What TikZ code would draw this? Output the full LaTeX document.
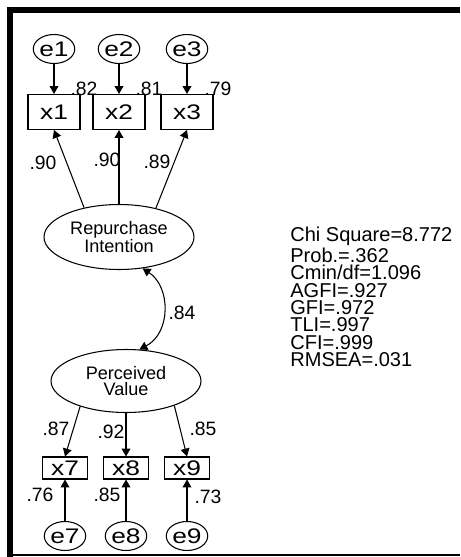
\documentclass[tikz,border=0pt]{standalone}
\usepackage{fontspec}
\setmainfont{Liberation Sans}
\newfontfamily\varfont[FakeStretch=1.25]{Liberation Sans}
\usetikzlibrary{arrows.meta, shapes.geometric}

\begin{document}
\begin{tikzpicture}[
    x=0.02cm, y=-0.02cm,
    >={Triangle[length=4.5pt, width=5pt]},
    font=\fontsize{11}{10}\selectfont,
    frame/.style  = {fill=black},
    resid/.style  = {draw, ellipse, line width=0.6pt, inner sep=0pt,
                     minimum width=0.82cm, minimum height=0.58cm,
                     font=\varfont\fontsize{12}{12}\selectfont},
    obs/.style    = {draw, rectangle, line width=0.6pt, inner sep=0pt,
                     minimum width=1.04cm, minimum height=0.7cm,
                     font=\varfont\fontsize{12}{12}\selectfont},
    obslow/.style = {obs, minimum width=0.9cm, minimum height=0.44cm},
    latent/.style = {draw, ellipse, align=center, line width=0.6pt,
                     inner sep=0pt, minimum width=3.0cm, minimum height=1.3cm,
                     font=\fontsize{10.3}{9}\selectfont},
    path/.style   = {line width=0.6pt, ->},
    cov/.style    = {line width=0.6pt, <->},
    coef/.style   = {inner sep=0pt},
  ]

  \useasboundingbox (0,0) rectangle (460,557);

  % --- frame of the output window ------------------------------------------
  \fill[frame] (7,7) rectangle (460,13);
  \fill[frame] (7,7) rectangle (13,557);
  \fill[frame] (13,554) rectangle (460,556);

  % --- Repurchase Intention and its indicators -----------------------------
  \node[latent] (RI) at (119,237) {Repurchase\\Intention};
  \foreach \i/\x in {1/54, 2/119, 3/187} {
    \node[resid] (e\i) at (\x,49) {e\i};
    \node[obs]   (x\i) at (\x,112) {x\i};
    \draw[path] (e\i) -- (x\i);
  }
  \draw[path] (RI.140) -- (x1.south);
  \draw[path] (RI.north) -- (x2.south);
  \draw[path] (RI.38) -- (x3.south);

  \node[coef] (r1) at (84,89) {.82};
  \node[coef] (r2) at (149,89) {.81};
  \node[coef] (r3) at (218,89) {.79};
  \node[coef] (l1) at (43,163) {.90};
  \node[coef] (l2) at (107,160) {.90};
  \node[coef] (l3) at (157,162) {.89};

  % --- correlation between the two factors ---------------------------------
  \node[latent, minimum height=1.26cm] (PV) at (126,381) {Perceived\\Value};
  \draw[cov] (RI.307) .. controls (171,287) and (171,333) .. (PV.67);
  \node[coef] (c1) at (182,313) {.84};

  % --- Perceived Value and its indicators ----------------------------------
  \foreach \i/\x in {7/65, 8/126, 9/187} {
    \node[obslow] (x\i) at (\x,468) {x\i};
    \node[resid]  (e\i) at (\x,536) {e\i};
    \draw[path] (e\i) -- (x\i);
  }
  \draw[path] (PV.209) -- (x7.north);
  \draw[path] (PV.south) -- (x8.north);
  \draw[path] (PV.333) -- (x9.north);

  \node[coef] (l7) at (56,429) {.87};
  \node[coef] (l8) at (111,432) {.92};
  \node[coef] (l9) at (203,429) {.85};
  \node[coef] (r7) at (40,495) {.76};
  \node[coef] (r8) at (107,495) {.85};
  \node[coef] (r9) at (208,497) {.73};

  % --- fit indices ---------------------------------------------------------
  \node[anchor=north west, align=left, inner sep=0pt,
        font=\fontsize{11.4}{9.9}\selectfont] (fit) at (290,227)
    {Chi Square=8.772\\Prob.=.362\\Cmin/df=1.096\\AGFI=.927\\GFI=.972\\%
     TLI=.997\\CFI=.999\\RMSEA=.031};

\end{tikzpicture}
\end{document}
